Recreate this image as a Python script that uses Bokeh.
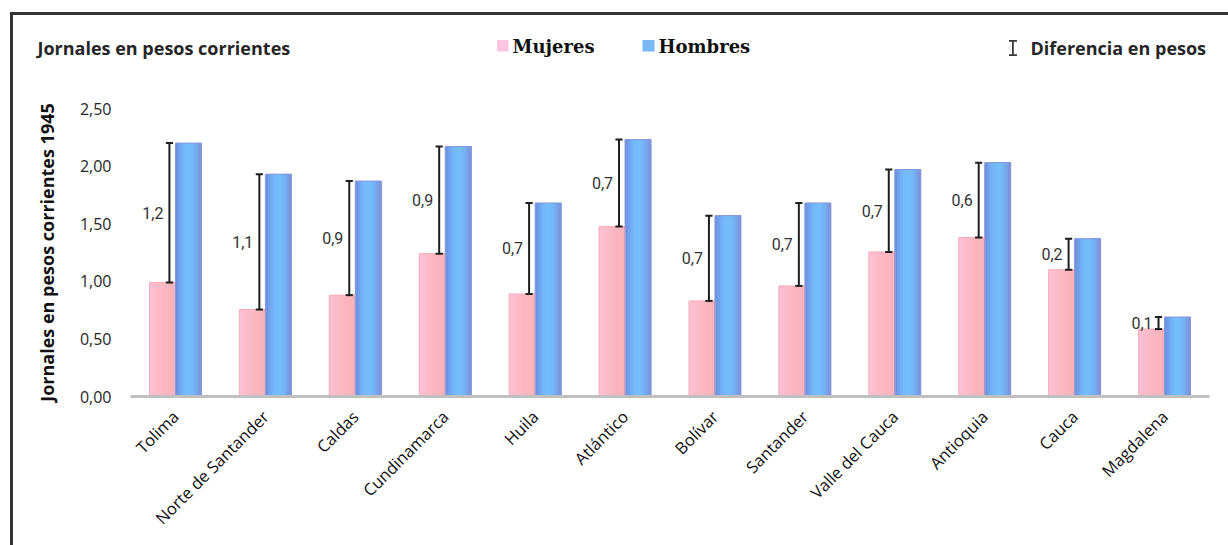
import math

from bokeh.core.properties import value
from bokeh.embed import file_html
from bokeh.models import BoxAnnotation, ColumnDataSource, FixedTicker, Label, Range1d
from bokeh.plotting import figure
from bokeh.resources import INLINE
from bokeh.transform import dodge

# Jornales diarios (pesos corrientes, 1945) por departamento
departamentos = ["Tolima", "Norte de Santander", "Caldas", "Cundinamarca", "Huila",
                 "Atlántico", "Bolívar", "Santander", "Valle del Cauca", "Antioquia",
                 "Cauca", "Magdalena"]
mujeres = [0.99, 0.755, 0.88, 1.24, 0.89, 1.475, 0.83, 0.96, 1.255, 1.38, 1.10, 0.585]
hombres = [2.20, 1.93, 1.87, 2.17, 1.68, 2.23, 1.57, 1.68, 1.97, 2.03, 1.37, 0.69]
y_ticks = [0.0, 0.5, 1.0, 1.5, 2.0, 2.5]


def truncar(v):
    # the difference is shown cut to one decimal, with a decimal comma
    return f"{math.floor(round(v * 10, 6)) / 10:.1f}".replace(".", ",")


pos = [i + 0.5 for i in range(len(departamentos))]  # category centres
diferencia = [h - m for m, h in zip(mujeres, hombres)]
src = ColumnDataSource(dict(
    x=pos,
    m=mujeres,
    h=hombres,
    mid=[(m + h) / 2 for m, h in zip(mujeres, hombres)],
    lab=[truncar(d) for d in diferencia],
))

FONT = "Open Sans"
W, H = 1228, 545
X0, X1 = 130, 1209      # px span of the category axis
Y0, Y_TOP = 396, 108    # px of value 0 and of the top tick
CAT_PX = (X1 - X0) / len(departamentos)
VAL_PX = (Y0 - Y_TOP) / y_ticks[-1]

# the plotting frame fills the whole canvas; axes are pinned inside it
p = figure(width=W, height=H,
           x_range=Range1d(-X0 / CAT_PX, (W - X0) / CAT_PX),
           y_range=Range1d(-(H - Y0) / VAL_PX, Y0 / VAL_PX),
           output_backend="svg", toolbar_location=None, title=None,
           min_border=0, min_border_left=0, min_border_right=0,
           min_border_top=0, min_border_bottom=0)
p.outline_line_color = None
p.background_fill_color = "white"
p.border_fill_color = "white"
p.grid.visible = False

# ---- bars, painted as overlapping strips to give the shaded look
BW = 0.289
pink = ["#fcc1d5", "#fcbed0", "#fbbccc", "#fbbac8", "#fbb8c5", "#fab7c2", "#fab6c0",
        "#f9b5be", "#f9b4bc", "#f8b3ba"]
blue = ["#6e94e0", "#70a2ec", "#72aff4", "#74b8f8", "#74bcf9", "#74bdf9", "#74b9f7",
        "#75b0f2", "#78a3e8", "#7d95db"]
N = len(blue)
sw = BW / N
for i in range(N):
    wi = BW - i * sw
    off = (i * sw + BW) / 2  # centre of the strip running from i*sw to the bar's right edge
    p.vbar(x=dodge("x", -BW + off), top="m", bottom=0, width=wi, source=src,
           fill_color=pink[i], line_color=None)
    p.vbar(x=dodge("x", off), top="h", bottom=0, width=wi, source=src,
           fill_color=blue[i], line_color=None)

p.vbar(x=dodge("x", -BW / 2), top="m", bottom=0, width=BW, source=src,
       fill_color=None, line_color="#f6adb6", line_width=1)
p.vbar(x=dodge("x", BW / 2), top="h", bottom=0, width=BW, source=src,
       fill_color=None, line_color="#8797dc", line_width=1)

# ---- difference bars (women -> men) with caps
EX = -0.067
CAP = 0.04
p.segment(x0=dodge("x", EX), y0="m", x1=dodge("x", EX), y1="h",
          source=src, line_color="#1e1e1e", line_width=2)
for col in ("m", "h"):
    p.segment(x0=dodge("x", EX - CAP), y0=col, x1=dodge("x", EX + CAP), y1=col,
              source=src, line_color="#1e1e1e", line_width=2)

p.text(x=dodge("x", EX), y="mid", text="lab", source=src,
       x_offset=-6, text_align="right", text_baseline="middle",
       text_font=value("Roboto"), text_font_size="16px", text_color="#333333")

# ---- axes
xa = p.xaxis[0]
xa.fixed_location = 0
xa.bounds = (0, len(departamentos))
xa.ticker = FixedTicker(ticks=pos)
xa.major_label_overrides = {x: d for x, d in zip(pos, departamentos)}
xa.axis_line_color = "#c0c0c0"
xa.axis_line_width = 3
xa.major_tick_line_color = None
xa.minor_tick_line_color = None
xa.major_label_orientation = math.pi / 4
xa.major_label_standoff = 11
xa.major_label_text_font = FONT
xa.major_label_text_font_size = "16.5px"
xa.major_label_text_color = "#111111"

ya = p.yaxis[0]
ya.fixed_location = 0
ya.bounds = (0, y_ticks[-1])
ya.ticker = FixedTicker(ticks=y_ticks)
ya.major_label_overrides = {t: f"{t:.2f}".replace(".", ",") for t in y_ticks}
ya.axis_line_color = None
ya.major_tick_line_color = None
ya.minor_tick_line_color = None
ya.major_tick_out = 0
ya.major_tick_in = 0
ya.major_label_standoff = 19
ya.major_label_text_font = FONT
ya.major_label_text_font_size = "16px"
ya.major_label_text_color = "#262626"
ya.axis_label = "Jornales en pesos corrientes 1945"
ya.axis_label_text_font = FONT
ya.axis_label_text_font_style = "bold"
ya.axis_label_text_font_size = "18px"
ya.axis_label_text_color = "#111111"
ya.axis_label_standoff = 18


# ---- screen placement helpers (frame == canvas, y measured upward)
def sy(cy):
    return H - cy


def box(left, right, top, bottom, color):
    return BoxAnnotation(left=left, right=right, top=sy(top), bottom=sy(bottom),
                         left_units="screen", right_units="screen",
                         top_units="screen", bottom_units="screen",
                         fill_color=color, fill_alpha=1, line_color=None, level="overlay")


# frame lines (top and left)
p.add_layout(box(9.5, W, 11.5, 14.5, "#333333"))
p.add_layout(box(9.5, 12.5, 11.5, H, "#333333"))

p.add_layout(Label(x=37, y=sy(47), x_units="screen", y_units="screen",
                   text="Jornales en pesos corrientes", text_font=FONT,
                   text_font_style="bold", text_font_size="18px", text_color="#262626",
                   text_baseline="middle", text_align="left"))

p.add_layout(box(496.5, 508, 39.5, 51, "#fcc5e0"))
p.add_layout(Label(x=512, y=sy(46), x_units="screen", y_units="screen",
                   text="Mujeres", text_font="DejaVu Serif", text_font_style="bold",
                   text_font_size="18px", text_color="#111111", text_baseline="middle"))
p.add_layout(box(642, 654, 39.5, 51, "#78b9f4"))
p.add_layout(Label(x=658, y=sy(46), x_units="screen", y_units="screen",
                   text="Hombres", text_font="DejaVu Serif", text_font_style="bold",
                   text_font_size="18px", text_color="#111111", text_baseline="middle"))

# legend key for the difference bars: a small capped bar
p.add_layout(box(1011.5, 1013.3, 39.5, 55.5, "#3a3a3a"))
p.add_layout(box(1008.5, 1016.5, 39.5, 41.2, "#3a3a3a"))
p.add_layout(box(1008.5, 1016.5, 53.8, 55.5, "#3a3a3a"))
p.add_layout(Label(x=1030, y=sy(47), x_units="screen", y_units="screen",
                   text="Diferencia en pesos", text_font=FONT, text_font_style="bold",
                   text_font_size="18px", text_color="#262626", text_baseline="middle"))

open("out.html", "w").write(file_html(p, INLINE))
